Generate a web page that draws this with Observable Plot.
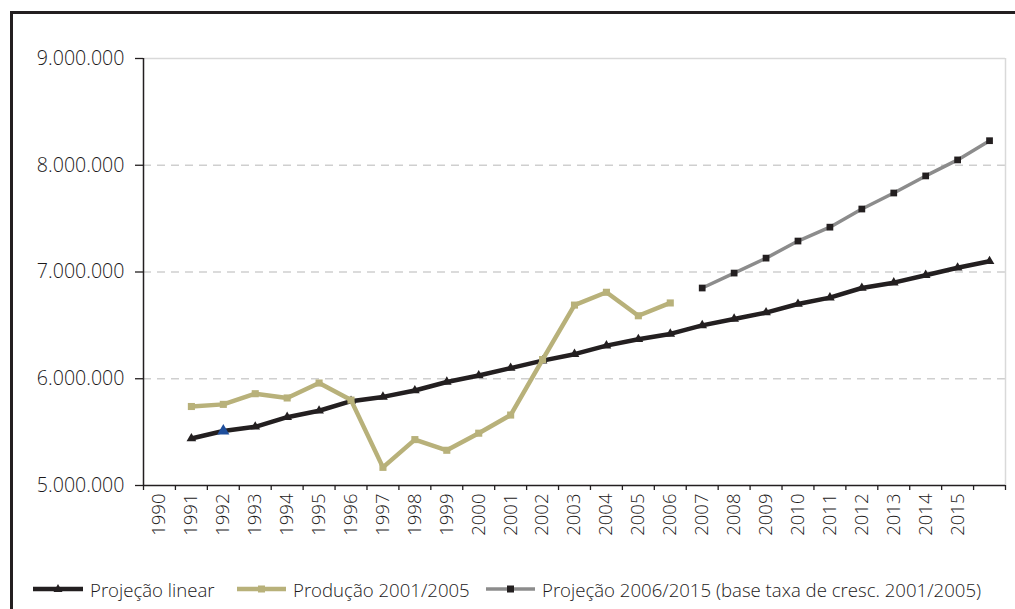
<!DOCTYPE html>
<html>
<head>
<meta charset="utf-8">
<script src="https://cdn.jsdelivr.net/npm/d3@7"></script>
<script src="https://cdn.jsdelivr.net/npm/@observablehq/plot@0.6"></script>
<style>
  html, body { margin: 0; padding: 0; background: #fff; }
  body { width: 1015px; height: 609px; overflow: hidden; position: relative; font-family: "Open Sans", "Noto Sans", sans-serif; font-weight: 300; color: #1c191a; }
  #frame { position: absolute; left: 10px; top: 11px; width: 1010px; height: 610px; border-top: 3px solid #231f20; border-left: 3px solid #231f20; box-sizing: border-box; }
  #chart { position: absolute; left: 0; top: 0; }
  #chart svg text { font-weight: 300; }
  #legend { position: absolute; left: 0; top: 576px; width: 1015px; height: 26px; font-size: 18.6px; }
  .item { position: absolute; top: 0; display: flex; align-items: center; height: 26px; white-space: nowrap; }
  .item svg { margin-right: 7px; }
</style>
</head>
<body>
<div id="frame"></div>
<div id="chart"></div>
<div id="legend"></div>
<script>
// Category years (tick labels) — the last band (2016) is unlabeled
const yearLabels = d3.range(1990, 2016);
const yTicks = [5000000, 6000000, 7000000, 8000000, 9000000];

// Projeção linear (1991–2016)
const linearYears = d3.range(1991, 2017);
const linearValues = [5440000, 5510000, 5550000, 5640000, 5700000, 5790000, 5830000, 5890000, 5970000, 6030000,
  6100000, 6170000, 6230000, 6310000, 6370000, 6420000, 6500000, 6560000, 6620000, 6700000,
  6760000, 6850000, 6900000, 6970000, 7040000, 7100000];

// Produção 2001/2005 (1991–2006)
const prodYears = d3.range(1991, 2007);
const prodValues = [5740000, 5760000, 5860000, 5820000, 5960000, 5800000, 5170000, 5430000, 5330000, 5490000,
  5660000, 6180000, 6690000, 6810000, 6590000, 6710000];

// Projeção 2006/2015 (2007–2016)
const projYears = d3.range(2007, 2017);
const projValues = [6850000, 6990000, 7130000, 7290000, 7420000, 7590000, 7740000, 7900000, 8050000, 8230000];

// Highlighted (blue) point on the linear projection
const highlightYear = [1992];
const highlightValue = [5510000];

const seriesNames = ["Projeção linear", "Produção 2001/2005", "Projeção 2006/2015 (base taxa de cresc. 2001/2005)"];
const colors = { linear: "#231f20", prod: "#b8b17a", projLine: "#8c8c8c", projDot: "#231f20", highlight: "#1f4f9c" };

const linear = linearYears.map((year, i) => ({ year, value: linearValues[i] }));
const prod = prodYears.map((year, i) => ({ year, value: prodValues[i] }));
const proj = projYears.map((year, i) => ({ year, value: projValues[i] }));
const highlight = highlightYear.map((year, i) => ({ year, value: highlightValue[i] }));

const fmt = d => d3.format(",")(d).replace(/,/g, ".");
const cx = d => d.year + 0.5;

const chart = Plot.plot({
  width: 1015,
  height: 565,
  marginLeft: 143,
  marginRight: 10,
  marginTop: 58,
  marginBottom: 80,
  style: { fontFamily: "'Open Sans', 'Noto Sans', sans-serif", color: "#1c191a", background: "transparent" },
  x: { type: "linear", domain: [1990, 2017], label: null },
  y: { type: "linear", domain: [5000000, 9000000], label: null },
  marks: [
    // gridlines
    Plot.ruleY([6000000, 7000000, 8000000], { stroke: "#cfcfcf", strokeWidth: 1.3, strokeDasharray: "8,6" }),
    Plot.ruleY([9000000], { stroke: "#d9d9d9", strokeWidth: 1.5 }),
    Plot.ruleX([2017], { stroke: "#d9d9d9", strokeWidth: 1.5 }),
    // axes
    Plot.axisY({ ticks: yTicks, tickFormat: fmt, tickSize: 8, tickPadding: 11, fontSize: 19.6, label: null, stroke: "#231f20", strokeWidth: 1.3 }),
    Plot.axisX({ ticks: d3.range(1990, 2018), tickFormat: () => "", tickSize: 5, label: null, stroke: "#231f20", strokeWidth: 1.3 }),
    Plot.axisX({ ticks: yearLabels.map(d => d + 0.5), tickFormat: d => String(d - 0.5), tickSize: 0, tickPadding: 8, tickRotate: -90, fontSize: 18.5, label: null }),
    Plot.ruleX([1990], { stroke: "#231f20", strokeWidth: 1.5 }),
    Plot.ruleY([5000000], { stroke: "#231f20", strokeWidth: 1.5 }),
    // series
    Plot.line(linear, { x: cx, y: "value", stroke: colors.linear, strokeWidth: 4.5 }),
    Plot.dot(linear, { x: cx, y: "value", symbol: "triangle", r: 3.6, fill: colors.linear, stroke: "none" }),
    Plot.line(prod, { x: cx, y: "value", stroke: colors.prod, strokeWidth: 4.5 }),
    Plot.dot(prod, { x: cx, y: "value", symbol: "square", r: 4, fill: colors.prod, stroke: "none" }),
    Plot.line(proj, { x: cx, y: "value", stroke: colors.projLine, strokeWidth: 3.5 }),
    Plot.dot(proj, { x: cx, y: "value", symbol: "square", r: 3.8, fill: colors.projDot, stroke: "none" }),
    Plot.dot(highlight, { x: cx, y: "value", symbol: "triangle", r: 4.5, fill: colors.highlight, stroke: "none" })
  ]
});
document.getElementById("chart").appendChild(chart);

// Legend
const legend = d3.select("#legend");
const items = [
  { name: seriesNames[0], left: 33, w: 50, line: colors.linear, sw: 4.5, mark: "tri", mfill: colors.linear },
  { name: seriesNames[1], left: 237, w: 49, line: colors.prod, sw: 4.5, mark: "sq", mfill: colors.prod },
  { name: seriesNames[2], left: 486, w: 49, line: colors.projLine, sw: 3.5, mark: "sq", mfill: colors.projDot }
];
items.forEach(it => {
  const div = legend.append("div").attr("class", "item").style("left", it.left + "px");
  const s = div.append("svg").attr("width", it.w).attr("height", 14);
  s.append("line").attr("x1", 0).attr("x2", it.w).attr("y1", 7).attr("y2", 7).attr("stroke", it.line).attr("stroke-width", it.sw);
  const m = it.w / 2;
  if (it.mark === "tri") {
    s.append("path").attr("d", `M${m},${2} L${m + 4.5},${10} L${m - 4.5},${10} Z`).attr("fill", it.mfill);
  } else {
    s.append("rect").attr("x", m - 3.5).attr("y", 3.5).attr("width", 7).attr("height", 7).attr("fill", it.mfill);
  }
  div.append("span").text(it.name);
});
</script>
</body>
</html>
